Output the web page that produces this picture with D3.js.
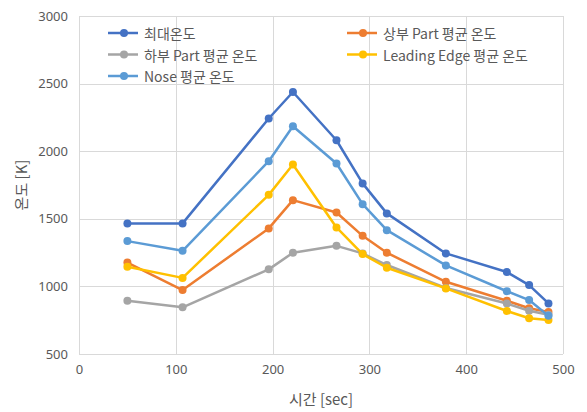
<!DOCTYPE html>
<html>
<head>
<meta charset="utf-8">
<script src="https://cdn.jsdelivr.net/npm/d3@7"></script>
<style>
  html, body { margin: 0; padding: 0; background: #fff; }
  svg { display: block; font-family: "Noto Sans CJK KR", "Noto Sans", sans-serif; }
</style>
</head>
<body>
<svg id="chart" width="587" height="412"></svg>
<script>
// Time samples [sec]
const times = [50, 107, 196, 221, 266, 293, 318, 379, 442, 465, 485];

// Temperature series [K]
const maxTemp     = [1466, 1466, 2242, 2438, 2081, 1762, 1540, 1244, 1106, 1010, 874];
const upperAvg    = [1176, 973, 1429, 1638, 1547, 1374, 1249, 1034, 894, 838, 810];
const lowerAvg    = [894, 845, 1126, 1249, 1300, 1244, 1158, 988, 873, 820, 790];
const leadingAvg  = [1145, 1063, 1677, 1902, 1436, 1239, 1138, 985, 818, 764, 752];
const noseAvg     = [1335, 1263, 1926, 2185, 1909, 1608, 1416, 1155, 964, 899, 782];

const seriesNames  = ["최대온도", "상부 Part 평균 온도", "하부 Part 평균 온도", "Leading Edge 평균 온도", "Nose 평균 온도"];
const seriesColors = ["#4472C4", "#ED7D31", "#A5A5A5", "#FFC000", "#5B9BD5"];
const seriesValues = [maxTemp, upperAvg, lowerAvg, leadingAvg, noseAvg];

const xTicks = [0, 100, 200, 300, 400, 500];
const yTicks = [500, 1000, 1500, 2000, 2500, 3000];

const svg = d3.select("#chart");
const plot = { left: 79, right: 563, top: 16, bottom: 354 };

const x = d3.scaleLinear().domain([0, 500]).range([plot.left, plot.right]);
const y = d3.scaleLinear().domain([500, 3000]).range([plot.bottom, plot.top]);

const gridColor = "#D9D9D9";
const textColor = "#595959";

// Gridlines
svg.append("g").selectAll("line.h").data(yTicks).join("line")
  .attr("x1", plot.left).attr("x2", plot.right)
  .attr("y1", d => Math.round(y(d)) + 0.5).attr("y2", d => Math.round(y(d)) + 0.5)
  .attr("stroke", gridColor).attr("stroke-width", 1);
svg.append("g").selectAll("line.v").data(xTicks).join("line")
  .attr("y1", plot.top).attr("y2", plot.bottom)
  .attr("x1", d => Math.round(x(d)) + 0.5).attr("x2", d => Math.round(x(d)) + 0.5)
  .attr("stroke", gridColor).attr("stroke-width", 1);

// Axes (labels only)
const xAxis = svg.append("g")
  .attr("transform", `translate(0,${plot.bottom + 8})`)
  .call(d3.axisBottom(x).tickValues(xTicks).tickFormat(d3.format("d")).tickSize(0).tickPadding(3));
const yAxis = svg.append("g")
  .attr("transform", `translate(${plot.left - 11},0)`)
  .call(d3.axisLeft(y).tickValues(yTicks).tickFormat(d3.format("d")).tickSize(0).tickPadding(0));
[xAxis, yAxis].forEach(g => {
  g.select(".domain").remove();
  g.selectAll("text")
    .attr("fill", textColor)
    .style("font-size", "13px")
    .style("font-family", "'Noto Sans', 'Open Sans', sans-serif");
});

// Axis titles
svg.append("text")
  .attr("x", (plot.left + plot.right) / 2).attr("y", 405)
  .attr("text-anchor", "middle").attr("fill", textColor)
  .style("font-size", "15px")
  .text("시간 [sec]");
svg.append("text")
  .attr("transform", `translate(20,${(plot.top + plot.bottom) / 2}) rotate(-90)`)
  .attr("text-anchor", "middle").attr("dominant-baseline", "central")
  .attr("fill", textColor)
  .style("font-size", "15px")
  .text("온도 [K]");

// Series lines and markers
const line = d3.line().x((d, i) => x(times[i])).y(d => y(d));
seriesValues.forEach((vals, s) => {
  const g = svg.append("g");
  g.append("path").datum(vals)
    .attr("d", line).attr("fill", "none")
    .attr("stroke", seriesColors[s]).attr("stroke-width", 2.5)
    .attr("stroke-linejoin", "round");
  g.selectAll("circle").data(vals).join("circle")
    .attr("cx", (d, i) => x(times[i])).attr("cy", d => y(d))
    .attr("r", 4).attr("fill", seriesColors[s]);
});

// Legend (row-wise, two columns)
const legendPos = [
  { lx: 108, ly: 33 }, { lx: 347, ly: 33 },
  { lx: 108, ly: 54.5 }, { lx: 347, ly: 54.5 },
  { lx: 108, ly: 76 }
];
const legend = svg.append("g");
seriesNames.forEach((name, s) => {
  const p = legendPos[s];
  const g = legend.append("g").attr("transform", `translate(${p.lx},${p.ly})`);
  g.append("line").attr("x1", 0).attr("x2", 30).attr("y1", 0).attr("y2", 0)
    .attr("stroke", seriesColors[s]).attr("stroke-width", 2.5);
  g.append("circle").attr("cx", 16).attr("cy", 0).attr("r", 4).attr("fill", seriesColors[s]);
  g.append("text").attr("x", 36).attr("y", 0)
    .attr("dominant-baseline", "central").attr("fill", textColor)
    .style("font-size", "14px")
    .text(name);
});
</script>
</body>
</html>
